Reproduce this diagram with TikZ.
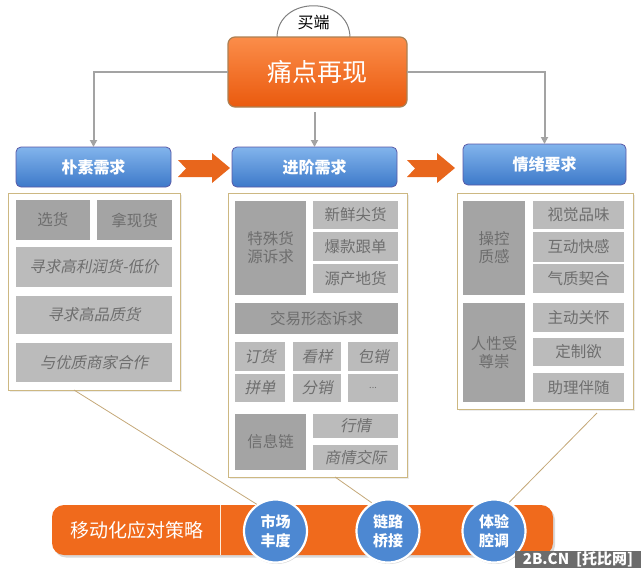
\documentclass[tikz,border=0pt]{standalone}
\usepackage{fontspec}
\setmainfont{Noto Sans CJK SC}
\newfontfamily\cjkit{Noto Sans CJK SC}[FakeSlant=0.2]
\usetikzlibrary{arrows.meta,shadows}
\definecolor{cellD}{HTML}{A4A4A4}
\definecolor{cellL}{HTML}{BBBBBB}
\definecolor{cellT}{HTML}{6E6E6E}
\definecolor{panelB}{HTML}{CDB882}
\definecolor{connG}{HTML}{A3A3A3}
\definecolor{orA}{HTML}{FB8D4A}
\definecolor{orB}{HTML}{EA5A0E}
\definecolor{orBar}{HTML}{F06A1C}
\definecolor{orArr}{HTML}{E8661C}
\definecolor{blA}{HTML}{82B4EC}
\definecolor{blB}{HTML}{3D79C9}
\definecolor{blC}{HTML}{4D88D2}
\definecolor{linkC}{HTML}{C4A878}
\newcommand\boxcell[7]{\node[#1,minimum width={(#5-#3)*1pt},minimum height={(#6-#4)*1pt}] (#2) at ({(#3+#5)/2},{(#4+#6)/2}) {#7};}
\begin{document}
\begin{tikzpicture}[x=1pt,y=-1pt,
  cellbase/.style={inner sep=0pt,outer sep=0pt,text=cellT,align=center,font=\fontsize{15.5}{18}\selectfont},
  cd/.style={cellbase,fill=cellD},
  cl/.style={cellbase,fill=cellL},
  ci/.style={cellbase,fill=cellL,font=\cjkit\fontsize{15.5}{18}\selectfont},
  panelbox/.style={draw=panelB,fill=white,line width=0.9pt,inner sep=0pt,outer sep=0pt,
     drop shadow={shadow xshift=1.5pt,shadow yshift=-1.5pt,opacity=0.15}},
  hdr/.style={rounded corners=5pt,top color=blA,bottom color=blB,draw=gray!70!blue,line width=0.8pt,
     text=white,font=\bfseries\fontsize{16}{18}\selectfont,inner sep=0pt,outer sep=0pt},
  titlebox/.style={rounded corners=7pt,top color=orA,bottom color=orB,draw=brown!70!gray,line width=1.2pt,
     text=white,font=\fontsize{25}{28}\selectfont,inner sep=0pt,outer sep=0pt},
  conn/.style={draw=connG,line width=2pt,-{Triangle[length=7pt,width=7pt]}},
  chev/.style={fill=orArr,draw=none},
  lk/.style={draw=linkC,line width=0.8pt},
  circ/.style={circle,minimum size=63pt,inner sep=0pt,fill=blC,draw=white,line width=2.2pt,
     text=white,align=center,font=\bfseries\fontsize{15}{19}\selectfont,
     drop shadow={shadow xshift=1pt,shadow yshift=-1.5pt,opacity=0.3}},
  barbox/.style={rounded corners=12pt,fill=orBar,draw=none,inner sep=0pt,
     drop shadow={shadow xshift=2pt,shadow yshift=-2.5pt,opacity=0.3}},
  wm/.style={fill=gray!85!black,text=white,inner sep=0pt,outer sep=0pt,font=\bfseries\fontsize{15}{16}\selectfont}
]
\useasboundingbox (0,0) rectangle (641,568);
% buyer tab
\draw[gray,line width=1pt,fill=white] (277,38) .. controls (277,-5) and (350,-5) .. (350,38);
\node[font=\fontsize{16}{18}\selectfont] (buyer) at (313.5,22) {买端};
% title
\node[titlebox,minimum width=179pt,minimum height=70pt] (title) at (317.5,72) {痛点再现};
% headers
\node[hdr,minimum width=155pt,minimum height=40pt] (h1) at (93.5,167) {朴素需求};
\node[hdr,minimum width=165pt,minimum height=40pt] (h2) at (314.5,167) {进阶需求};
\node[hdr,minimum width=163pt,minimum height=41pt] (h3) at (544.5,164.5) {情绪要求};
% connectors
\draw[conn] (title.west) -| (h1.north);
\draw[conn] (title.east) -| (h3.north);
\draw[conn] ([yshift=-5pt]title.south -| h2.north) -- (h2.north);
% chevrons
\fill[chev] (178,160) -- (212,160) -- (212,153) -- (230,168) -- (212,183) -- (212,177) -- (178,177) -- (186,168.5) -- cycle;
\fill[chev] (407,160) -- (437,160) -- (437,153) -- (455,168) -- (437,183) -- (437,177) -- (407,177) -- (415,168.5) -- cycle;
% panels
\node[panelbox,minimum width=172pt,minimum height=197pt] (lp) at (94,291.5) {};
\node[panelbox,minimum width=179pt,minimum height=284pt] (mp) at (317.5,335) {};
\node[panelbox,minimum width=176pt,minimum height=216pt] (rp) at (545,301) {};
% left cells
\boxcell{cd}{a1}{16}{200}{90}{240}{选货}
\boxcell{cd}{a2}{97}{200}{172}{240}{拿现货}
\boxcell{ci}{a3}{16}{247}{172}{287}{寻求高利润货-低价}
\boxcell{ci}{a4}{16}{296}{172}{334}{寻求高品质货}
\boxcell{ci}{a5}{16}{343}{172}{382}{与优质商家合作}
% middle cells
\boxcell{cd}{b1}{235}{201}{306}{295}{特殊货\\源诉求}
\boxcell{cl}{b2}{313}{201}{398}{229}{新鲜尖货}
\boxcell{cl}{b3}{313}{232}{398}{261}{爆款跟单}
\boxcell{cl}{b4}{313}{264}{398}{293}{源产地货}
\boxcell{cd}{b5}{235}{303}{398}{334}{交易形态诉求}
\boxcell{ci}{b6}{235}{342}{285}{371}{订货}
\boxcell{ci}{b7}{293}{342}{341}{371}{看样}
\boxcell{ci}{b8}{348}{342}{398}{371}{包销}
\boxcell{ci}{b9}{235}{374}{285}{402}{拼单}
\boxcell{ci}{b10}{293}{374}{341}{402}{分销}
\boxcell{cl}{b11}{348}{374}{398}{402}{\fontsize{9}{10}\selectfont ...}
\boxcell{cd}{b12}{235}{414}{306}{470}{信息链}
\boxcell{ci}{b13}{313}{414}{398}{438}{行情}
\boxcell{ci}{b14}{313}{445}{398}{470}{商情交际}
% right cells
\boxcell{cd}{r1}{463}{201}{525}{295}{操控\\质感}
\boxcell{cl}{r2}{533}{201}{624}{229}{视觉品味}
\boxcell{cl}{r3}{533}{232}{624}{262}{互动快感}
\boxcell{cl}{r4}{533}{264}{624}{293}{气质契合}
\boxcell{cd}{r5}{463}{303}{525}{402}{人性受\\尊崇}
\boxcell{cl}{r6}{533}{303}{624}{332}{主动关怀}
\boxcell{cl}{r7}{533}{338}{624}{366}{定制欲}
\boxcell{cl}{r8}{533}{373}{624}{402}{助理伴随}
% bottom bar
\node[barbox,minimum width=501pt,minimum height=50pt] (bar) at (302.5,530) {};
\draw[white!85!orange,line width=1pt] (220,505) -- (220,555);
\node[text=white,font=\fontsize{19}{22}\selectfont] (strat) at (137,530) {移动化应对策略};
% links
\coordinate (l1) at (74,390);
\coordinate (l2) at (335,477);
\coordinate (l3) at (597,413);
\node[circ] (s1) at (275.5,531) {市场\\丰度};
\node[circ] (s2) at (388,531) {链路\\桥接};
\node[circ] (s3) at (494,531) {体验\\腔调};
\draw[lk] (l1) -- (s1.125);
\draw[lk] (l2) -- (s2.120);
\draw[lk] (l3) -- (s3.62);
% watermark
\node[wm,minimum width=126pt,minimum height=17pt,anchor=south east] (wmk) at (641,568) {2B.CN\ \ [托比网]};
\end{tikzpicture}
\end{document}
